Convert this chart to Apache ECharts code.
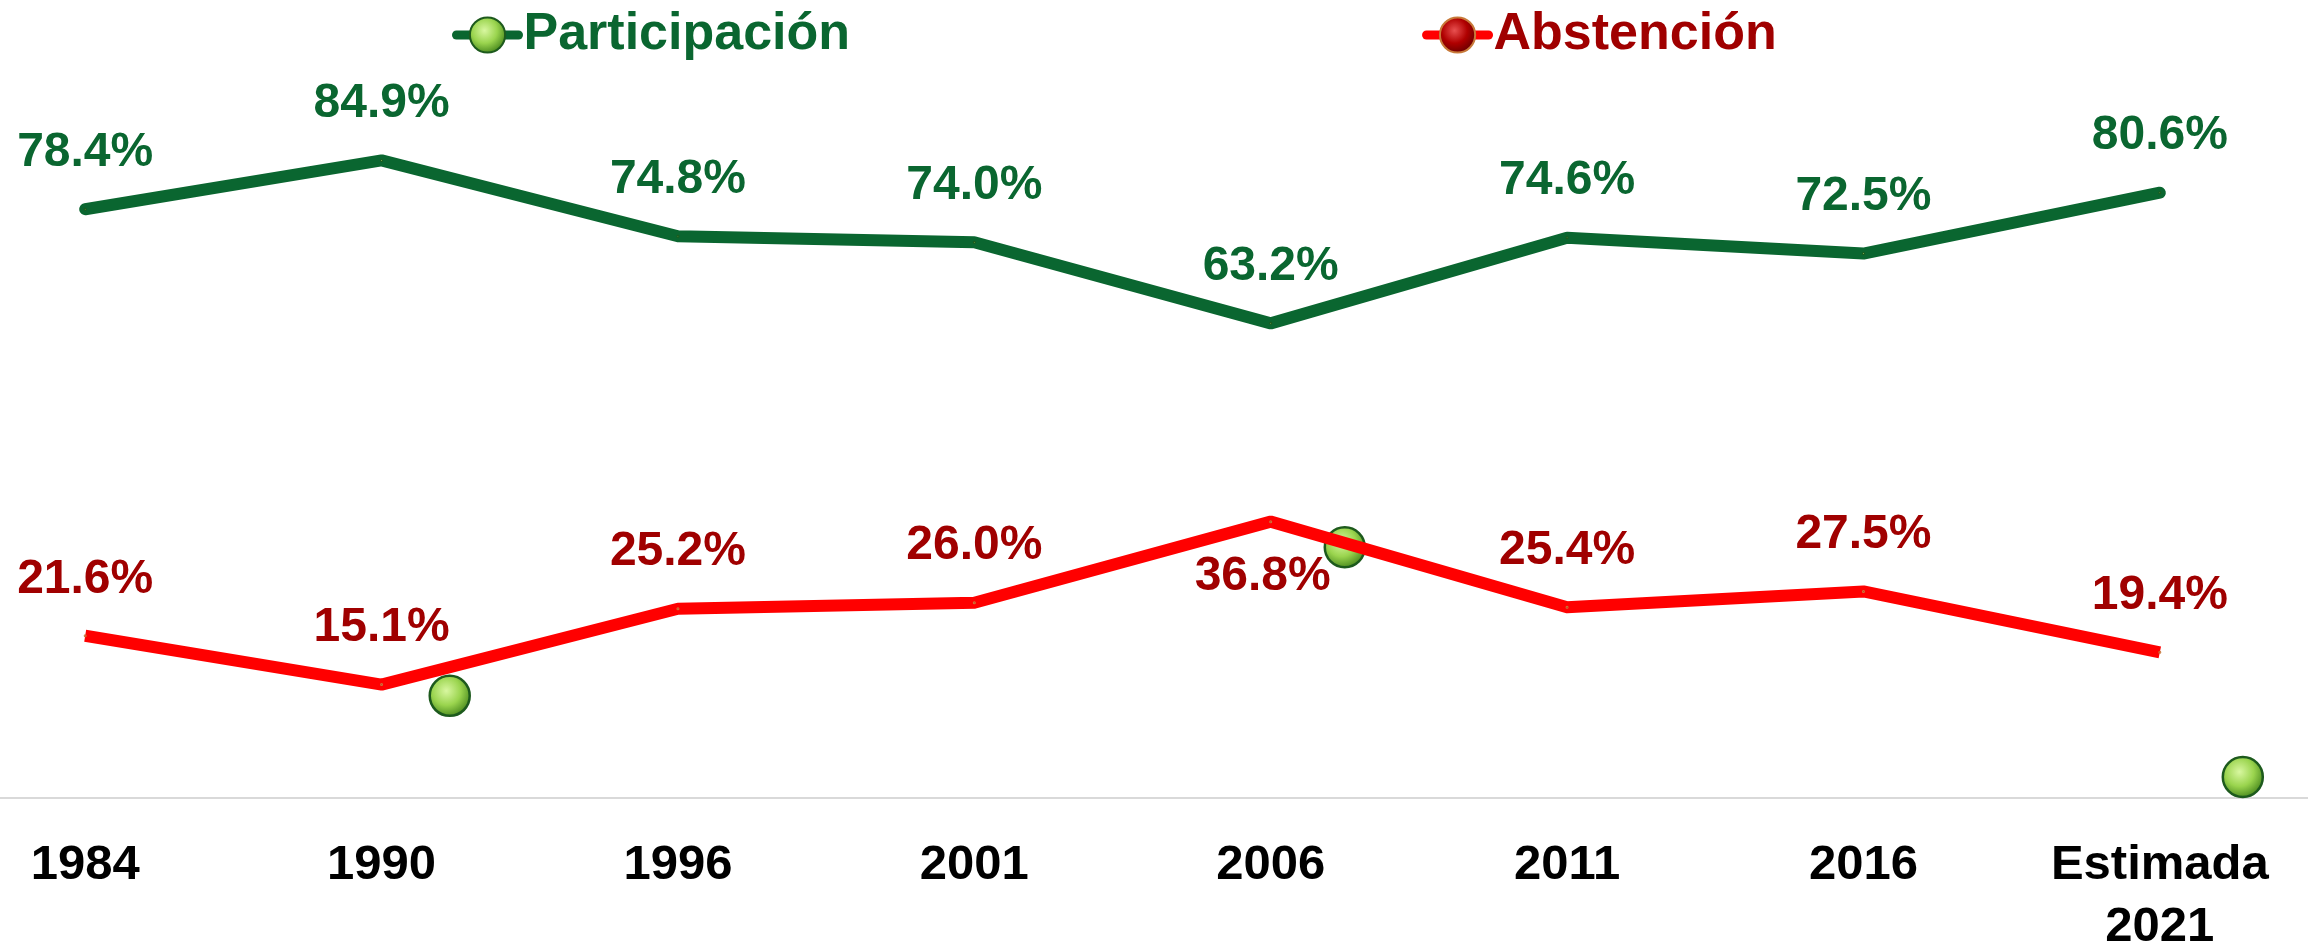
<!DOCTYPE html>
<html>
<head>
<meta charset="utf-8">
<script src="https://cdn.jsdelivr.net/npm/echarts@6/dist/echarts.min.js"></script>
<style>
  html, body { margin: 0; padding: 0; background: #fff; }
  #chart { width: 2308px; height: 946px; }
</style>
</head>
<body>
<div id="chart"></div>
<script>
  // data
  const years = ['1984', '1990', '1996', '2001', '2006', '2011', '2016', 'Estimada\n2021']
  const participacion = [78.4, 84.9, 74.8, 74.0, 63.2, 74.6, 72.5, 80.6]
  const abstencion = [21.6, 15.1, 25.2, 26.0, 36.8, 25.4, 27.5, 19.4]
  // loose marker balls that sit on the chart (category position, value)
  const strayBalls = [[1.23, 13.6], [4.25, 33.4], [7.28, 2.8]]

  const green = '#0a6630'
  const darkRed = '#a00000'

  const greenBall = {
    type: 'radial', x: 0.42, y: 0.38, r: 0.62,
    colorStops: [
      {offset: 0, color: '#d8f7a0'},
      {offset: 0.55, color: '#9ad44e'},
      {offset: 1, color: '#4a8a1e'}
    ]
  }
  const redBall = {
    type: 'radial', x: 0.42, y: 0.38, r: 0.62,
    colorStops: [
      {offset: 0, color: '#e85050'},
      {offset: 0.55, color: '#b00000'},
      {offset: 1, color: '#6a0000'}
    ]
  }

  const pct = p => p.value.toFixed(1) + '%'

  const chart = echarts.init(document.getElementById('chart'))
  chart.setOption({
    animation: false,
    textStyle: {fontFamily: 'Liberation Sans, Arial, sans-serif'},
    legend: {
      left: 447,
      top: 4,
      itemWidth: 62,
      itemHeight: 44,
      itemGap: 572,
      selectedMode: false,
      lineStyle: {width: 9, cap: 'round'},
      data: [
        {name: 'Participación', textStyle: {color: green}},
        {name: 'Abstención', textStyle: {color: darkRed}}
      ],
      textStyle: {fontSize: 52, fontWeight: 'bold'}
    },
    grid: {left: -63, right: 0, top: 47, bottom: 148, outerBoundsMode: 'none', containLabel: false},
    xAxis: [{
      type: 'category',
      data: years,
      boundaryGap: true,
      axisLine: {lineStyle: {color: '#d9d9d9', width: 2}},
      axisTick: {show: false},
      axisLabel: {
        color: '#000', fontSize: 49, fontWeight: 'bold',
        lineHeight: 62, margin: 36, interval: 0
      }
    }, {
      type: 'value', min: -0.5, max: 7.5, show: false
    }],
    yAxis: {type: 'value', min: 0, max: 100, show: false},
    series: [
      {
        name: 'balls',
        type: 'scatter',
        xAxisIndex: 1,
        z: 1,
        symbolSize: 40,
        itemStyle: {color: greenBall, borderColor: '#1d5a1d', borderWidth: 2.5, opacity: 1},
        data: strayBalls
      },
      {
        name: 'Participación',
        type: 'line',
        z: 3,
        data: participacion,
        symbol: 'circle',
        symbolSize: 1,
        showSymbol: true,
        lineStyle: {color: green, width: 12, cap: 'round', join: 'round'},
        itemStyle: {color: greenBall, borderColor: '#1d5a1d', borderWidth: 2},
        label: {
          show: true, position: 'top', distance: 31,
          color: green, fontSize: 48, fontWeight: 'bold',
          formatter: pct
        }
      },
      {
        name: 'Abstención',
        type: 'line',
        z: 3,
        symbol: 'circle',
        symbolSize: 1,
        showSymbol: true,
        data: abstencion.map((v, i) => i === 4
          ? {value: v, label: {position: 'bottom', distance: 30, offset: [-8, 0]}}
          : v),
        lineStyle: {color: '#ff0000', width: 12, join: 'round'},
        itemStyle: {color: redBall, borderColor: '#c87a3a', borderWidth: 2},
        label: {
          show: true, position: 'top', distance: 31,
          color: darkRed, fontSize: 48, fontWeight: 'bold',
          formatter: pct
        }
      }
    ]
  })
</script>
</body>
</html>
